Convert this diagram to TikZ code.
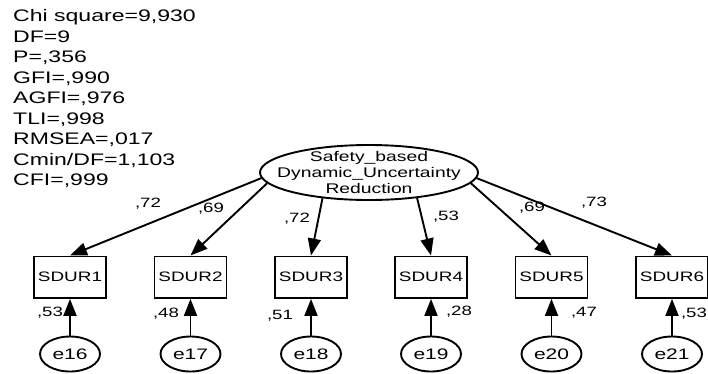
\documentclass[tikz,border=0pt]{standalone}
\usepackage{fontspec}
\setmainfont{Liberation Sans}[FakeStretch=1.38]
\usetikzlibrary{arrows.meta,shapes.geometric}

\begin{document}
\begin{tikzpicture}[x=1pt,y=-1pt,
  obs/.style={draw, line width=1.9pt, minimum width=72pt, minimum height=41.5pt,
    inner sep=0pt, font=\fontsize{13.7}{16}\selectfont},
  lat/.style={draw, ellipse, line width=1.9pt, minimum width=218pt, minimum height=55pt,
    inner sep=0pt},
  latlabel/.style={inner sep=0pt, align=center, font=\fontsize{14}{16}\selectfont},
  err/.style={draw, ellipse, line width=1.9pt, minimum width=60pt, minimum height=35pt,
    inner sep=0pt, font=\fontsize{15.2}{17}\selectfont},
  reg/.style={line width=1.9pt, -{Triangle[length=17pt,width=13pt]}},
  est/.style={font=\fontsize{13.5}{15}\selectfont, inner sep=0pt},
  fitstat/.style={font=\fontsize{16.7}{20.5}\selectfont, inner sep=0pt, anchor=base west},
]
\useasboundingbox (0,0) rectangle (708,373);

% model fit statistics
\foreach \t [count=\i] in {{Chi square=9,930},{DF=9},{P=,356},{GFI=,990},{AGFI=,976},
    {TLI=,998},{RMSEA=,017},{Cmin/DF=1,103},{CFI=,999}}
  \node[fitstat] (fit\i) at (13,{21.5+20.5*(\i-1)}) {\t};

% latent factor: outline and its three-line name
\node[lat] (lat) at (369,172.5) {};
\node[latlabel] (latname) at (lat.center) {Safety\_based\\Dynamic\_Uncertainty\\Reduction};

% indicators and their error terms
\foreach \x [count=\i] in {70,190.5,311,431,551.5,672} {
  \node[obs] (o\i) at (\x,277.2) {SDUR\i};
  \pgfmathtruncatemacro{\k}{15+\i}
  \node[err] (e\i) at (\x,354) {e\k};
  \draw[reg] (e\i.north) -- (o\i.south);
}

% factor loadings
\draw[reg] (lat.183)   -- (o1.north);
\draw[reg] (lat.186)   -- (o2.north);
\draw[reg] (lat.209.8) -- (o3.north);
\draw[reg] (lat.332.5) -- (o4.north);
\draw[reg] (lat.354)   -- (o5.north);
\draw[reg] (lat.357.6) -- (o6.north);

\node[est] (l1) at (148,204) {,72};
\node[est] (l2) at (211,209) {,69};
\node[est] (l3) at (297,219) {,72};
\node[est] (l4) at (446,217) {,53};
\node[est] (l5) at (532,208) {,69};
\node[est] (l6) at (594,203) {,73};

% squared multiple correlations
\node[est] (r1) at (50,313)  {,53};
\node[est] (r2) at (166,314) {,48};
\node[est] (r3) at (280,316) {,51};
\node[est] (r4) at (459,312) {,28};
\node[est] (r5) at (584,313) {,47};
\node[est] (r6) at (694,314) {,53};
\end{tikzpicture}
\end{document}
